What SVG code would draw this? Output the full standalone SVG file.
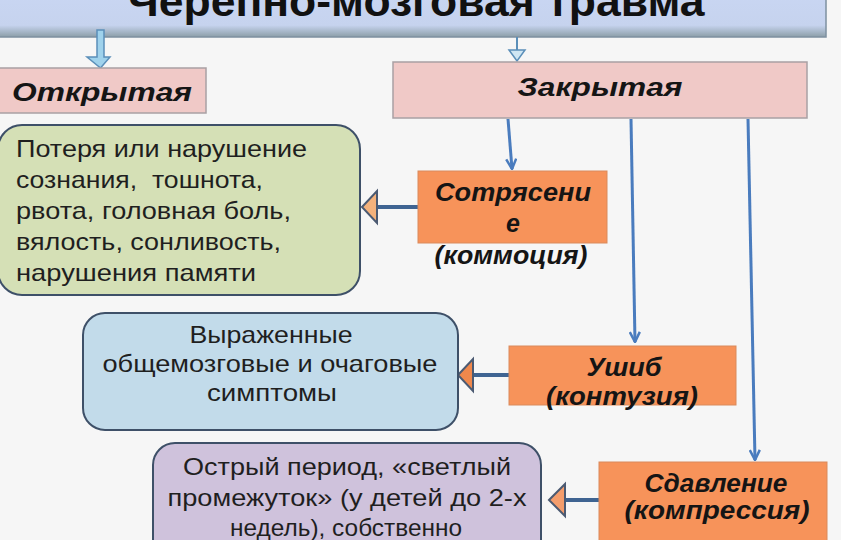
<svg xmlns="http://www.w3.org/2000/svg" width="841" height="540" viewBox="0 0 841 540">
  <defs>
    <style>
      .body { font-family: "Liberation Sans", Arial, sans-serif; font-size: 24px; fill: #1f1f1f; }
      .label { font-family: "Liberation Sans", Arial, sans-serif; font-size: 25px; font-weight: bold; font-style: italic; fill: #151515; }
      .mid { text-anchor: middle; }
      .pink { fill: #f0c9c7; stroke: #a9a0a4; stroke-width: 1.5; }
      .orange { fill: #f7935a; stroke: #d98a5c; stroke-width: 1; }
      .rounded { stroke: #3e5068; stroke-width: 2; }
      .link { fill: none; stroke: #4a7cbe; stroke-width: 3; }
      .side { fill: none; stroke: #3f6492; stroke-width: 4; }
      .tri { stroke: #4b5a72; stroke-width: 2; stroke-linejoin: miter; }
    </style>
    <linearGradient id="titleShade" x1="0" y1="0" x2="0" y2="1">
      <stop offset="0" stop-color="#c9d6f3"/>
      <stop offset="0.75" stop-color="#c6d3ee"/>
      <stop offset="1" stop-color="#8c9ea8"/>
    </linearGradient>
    <marker id="vee" viewBox="0 0 12 12" refX="11" refY="6" markerWidth="12" markerHeight="12" markerUnits="userSpaceOnUse" orient="auto">
      <path d="M1,1 L11,6 L1,11" fill="none" stroke="#4a7cbe" stroke-width="2.5"/>
    </marker>
  </defs>

  <rect x="0" y="0" width="841" height="540" fill="#f6f6f6"/>

  <!-- title banner -->
  <g id="title">
    <rect x="-10" y="-10" width="836" height="47" fill="url(#titleShade)" stroke="#7e90a0" stroke-width="1.5"/>
    <text x="416" y="16" class="mid" font-family="Liberation Sans, Arial, sans-serif" font-size="42" font-weight="bold" fill="#111" textLength="577" lengthAdjust="spacingAndGlyphs">Черепно-мозговая травма</text>
  </g>

  <!-- connectors -->
  <g id="connectors">
    <!-- block arrow to the open type -->
    <polygon points="97,30 104,30 104,57 110,57 100.5,68 87,57 97,57" fill="#9fd2ec" stroke="#5b8fb9" stroke-width="1.5"/>
    <!-- thin arrow to the closed type -->
    <line x1="517" y1="37" x2="517" y2="50" stroke="#5b8fb9" stroke-width="2"/>
    <polygon points="509,50 525,50 517,61" fill="#cfe6f3" stroke="#5b8fb9" stroke-width="1.5"/>

    <!-- closed type branches -->
    <line class="link" x1="508" y1="119" x2="512" y2="169" marker-end="url(#vee)"/>
    <line class="link" x1="631" y1="119" x2="635" y2="342" marker-end="url(#vee)"/>
    <line class="link" x1="748" y1="119" x2="755" y2="460" marker-end="url(#vee)"/>

    <!-- side links to the symptom boxes -->
    <line class="side" x1="418" y1="207" x2="377" y2="207"/>
    <polygon class="tri" points="362,207 377,191 377,223" fill="#f4b27c"/>

    <line class="side" x1="509" y1="375" x2="473" y2="375"/>
    <polygon class="tri" points="458,375 473,359 473,391" fill="#f0884c"/>

    <line class="side" x1="600" y1="500" x2="565" y2="500"/>
    <polygon class="tri" points="549,500 565,484 565,516" fill="#f49d6c"/>
  </g>

  <g id="open">
    <rect class="pink" x="-2" y="68" width="208" height="45"/>
    <text class="label mid" x="102" y="101" textLength="180" lengthAdjust="spacingAndGlyphs">Открытая</text>
  </g>

  <g id="closed">
    <rect class="pink" x="393" y="62" width="414" height="56"/>
    <text class="label mid" x="600" y="96" textLength="165" lengthAdjust="spacingAndGlyphs">Закрытая</text>
  </g>

  <g id="concussion">
    <rect class="orange" x="418" y="171" width="189" height="72"/>
    <text class="label mid" x="513" y="201" textLength="156" lengthAdjust="spacingAndGlyphs">Сотрясени</text>
    <text class="label mid" x="513" y="232">е</text>
    <text class="label mid" x="511" y="264" textLength="153" lengthAdjust="spacingAndGlyphs">(коммоция)</text>
  </g>

  <g id="concussion-signs">
    <rect class="rounded" x="-2" y="125" width="362" height="170" rx="24" ry="24" fill="#d5e0b6"/>
    <text class="body" x="16" y="157" textLength="291" lengthAdjust="spacingAndGlyphs">Потеря или нарушение</text>
    <text class="body" x="16" y="188" textLength="247" lengthAdjust="spacingAndGlyphs" style="white-space:pre">сознания,  тошнота,</text>
    <text class="body" x="16" y="219" textLength="275" lengthAdjust="spacingAndGlyphs">рвота, головная боль,</text>
    <text class="body" x="16" y="250" textLength="265" lengthAdjust="spacingAndGlyphs">вялость, сонливость,</text>
    <text class="body" x="16" y="281" textLength="240" lengthAdjust="spacingAndGlyphs">нарушения памяти</text>
  </g>

  <g id="contusion">
    <rect class="orange" x="509" y="346" width="227" height="59"/>
    <text class="label mid" x="624" y="376" textLength="75" lengthAdjust="spacingAndGlyphs">Ушиб</text>
    <text class="label mid" x="622" y="405" textLength="152" lengthAdjust="spacingAndGlyphs">(контузия)</text>
  </g>

  <g id="contusion-signs">
    <rect class="rounded" x="83" y="313" width="375" height="117" rx="22" ry="22" fill="#c2dbea"/>
    <text class="body mid" x="271" y="343" textLength="163" lengthAdjust="spacingAndGlyphs">Выраженные</text>
    <text class="body mid" x="270" y="372" textLength="335" lengthAdjust="spacingAndGlyphs">общемозговые и очаговые</text>
    <text class="body mid" x="272" y="401" textLength="130" lengthAdjust="spacingAndGlyphs">симптомы</text>
  </g>

  <g id="compression">
    <rect class="orange" x="599" y="462" width="228" height="90"/>
    <text class="label mid" x="716" y="492" textLength="143" lengthAdjust="spacingAndGlyphs">Сдавление</text>
    <text class="label mid" x="717" y="519" textLength="185" lengthAdjust="spacingAndGlyphs">(компрессия)</text>
  </g>

  <g id="compression-signs">
    <rect class="rounded" x="153" y="443" width="388" height="120" rx="22" ry="22" fill="#cfc2dc"/>
    <text class="body mid" x="347" y="475" textLength="328" lengthAdjust="spacingAndGlyphs">Острый период, «светлый</text>
    <text class="body mid" x="347" y="506" textLength="359" lengthAdjust="spacingAndGlyphs">промежуток» (у детей до 2-х</text>
    <text class="body mid" x="346" y="536" textLength="232" lengthAdjust="spacingAndGlyphs">недель), собственно</text>
  </g>
</svg>
